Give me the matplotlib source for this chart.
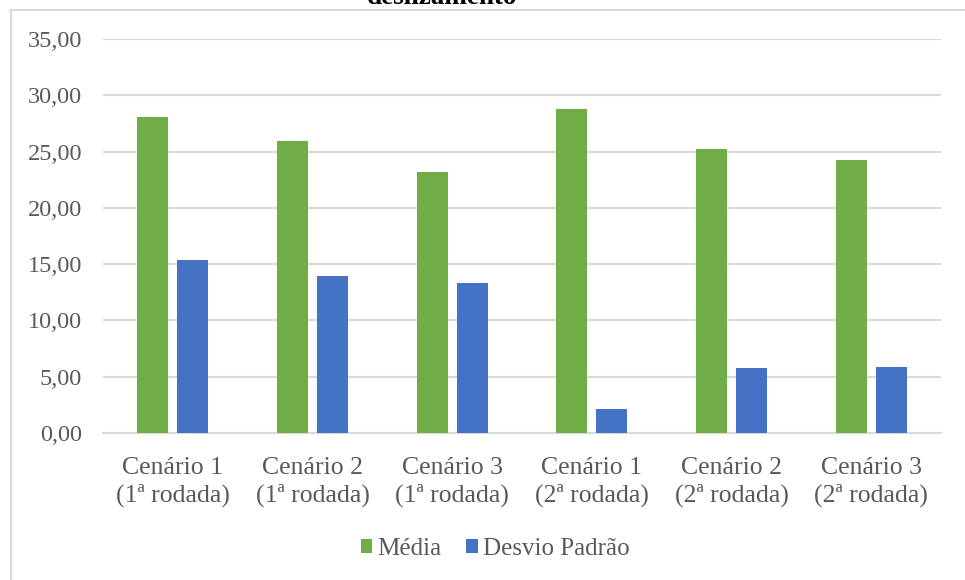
import numpy as np
import matplotlib
matplotlib.use('Agg')
import matplotlib.pyplot as plt
from matplotlib.lines import Line2D
from matplotlib.patches import Patch
from matplotlib.ticker import FuncFormatter


# DADOS

categorias = [
    'Cenário 1\n(1ª rodada)', 'Cenário 2\n(1ª rodada)', 'Cenário 3\n(1ª rodada)',
    'Cenário 1\n(2ª rodada)', 'Cenário 2\n(2ª rodada)', 'Cenário 3\n(2ª rodada)',
]
media = [28.10, 25.95, 23.15, 28.77, 25.25, 24.25]
desvio_padrao = [15.35, 13.95, 13.30, 2.15, 5.80, 5.88]
y_ticks = [0, 5, 10, 15, 20, 25, 30, 35]

VERDE = '#70AD47'
AZUL = '#4472C4'
CINZA_TEXTO = '#595959'
CINZA_GRADE = '#D9D9D9'

plt.rcParams['font.family'] = ['Liberation Serif', 'DejaVu Serif']

W, H = 965, 580
fig = plt.figure(figsize=(W / 100, H / 100), dpi=100)

# eixo posicionado em pixels da figura
esq, dir_, topo, base = 103, 941, 39, 433
ax = fig.add_axes([esq / W, 1 - base / H, (dir_ - esq) / W, (base - topo) / H])

x = np.arange(len(categorias))
largura = 0.22
desloc = 0.143
ax.bar(x - desloc, media, largura, color=VERDE, zorder=3, label='Média')
ax.bar(x + desloc, desvio_padrao, largura, color=AZUL, zorder=3, label='Desvio Padrão')

ax.set_xlim(-0.5, len(categorias) - 0.5)
ax.set_ylim(0, 35)
ax.set_yticks(y_ticks)
ax.yaxis.set_major_formatter(FuncFormatter(lambda v, _: f'{v:.2f}'.replace('.', ',')))
ax.set_xticks(x)
ax.set_xticklabels(categorias, linespacing=1.28)

ax.tick_params(axis='y', length=0, pad=15, labelsize=17.5, labelcolor=CINZA_TEXTO)
ax.tick_params(axis='x', length=0, pad=17, labelsize=18.5, labelcolor=CINZA_TEXTO)

ax.grid(axis='y', color=CINZA_GRADE, linewidth=1.5, zorder=0)
for lado in ['top', 'right', 'left']:
    ax.spines[lado].set_visible(False)
ax.spines['bottom'].set_color(CINZA_GRADE)
ax.spines['bottom'].set_linewidth(1.5)

# legenda
handles = [Patch(facecolor=VERDE, label='Média'), Patch(facecolor=AZUL, label='Desvio Padrão')]
fig.legend(handles=handles, loc='center', bbox_to_anchor=(495 / W, 1 - 549 / H),
           ncol=2, frameon=False, fontsize=18, labelcolor=CINZA_TEXTO,
           handlelength=0.45, handleheight=0.45, handletextpad=0.2,
           columnspacing=1.0, borderaxespad=0)

# borda do gráfico (só esquerda e topo visíveis)
fig.add_artist(Line2D([10.5 / W, 10.5 / W], [0, 1 - 9.5 / H], transform=fig.transFigure,
                      color=CINZA_GRADE, linewidth=1.5))
fig.add_artist(Line2D([10 / W, 1], [1 - 9.5 / H, 1 - 9.5 / H], transform=fig.transFigure,
                      color=CINZA_GRADE, linewidth=1.5))

# título cortado no topo (como na imagem original)
fig.text(442 / W, 1 - 4 / H, 'deslizamento', ha='center', va='baseline',
         fontsize=19.5, fontweight='bold', color='black')

fig.savefig('out.png', dpi=100)
